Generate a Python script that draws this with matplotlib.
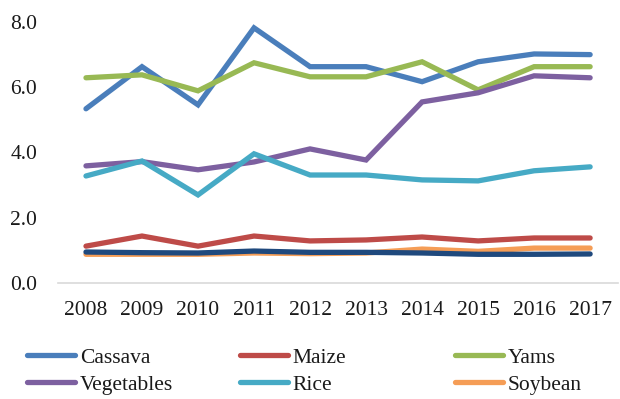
import numpy as np
import matplotlib.pyplot as plt
from matplotlib.lines import Line2D

years = ['2008', '2009', '2010', '2011', '2012', '2013', '2014', '2015', '2016', '2017']
cassava = [5.34, 6.63, 5.46, 7.82, 6.63, 6.63, 6.17, 6.78, 7.02, 7.00]
maize = [1.13, 1.44, 1.13, 1.44, 1.29, 1.32, 1.41, 1.29, 1.38, 1.38]
yams = [6.29, 6.38, 5.89, 6.75, 6.32, 6.32, 6.78, 5.92, 6.63, 6.63]
vegetables = [3.59, 3.72, 3.47, 3.71, 4.11, 3.77, 5.55, 5.83, 6.35, 6.29]
rice = [3.28, 3.74, 2.70, 3.96, 3.31, 3.31, 3.16, 3.13, 3.44, 3.56]
soybean = [0.88, 0.88, 0.88, 0.92, 0.90, 0.92, 1.04, 0.97, 1.07, 1.07]
other = [0.95, 0.93, 0.92, 0.98, 0.94, 0.94, 0.92, 0.88, 0.88, 0.89]

names = ['Cassava', 'Maize', 'Yams', 'Vegetables', 'Rice', 'Soybean']
series = [cassava, maize, yams, vegetables, rice, soybean]
colors = ['#4A7EBB', '#BE4B48', '#98B954', '#7D60A0', '#46AAC5', '#F59D56']

plt.rcParams['font.family'] = ['Liberation Serif']
fs = 15.5

fig = plt.figure(figsize=(6.2, 3.99), dpi=100)
ax = fig.add_axes([0.0935, 0.2907, 0.9035, 0.6542])

x = np.arange(len(years))
lw = 3.8
for s, c, n in zip(series, colors, names):
    ax.plot(x, s, color=c, lw=lw, label=n, solid_capstyle='round', solid_joinstyle='miter')
ax.plot(x, other, color='#1F497D', lw=lw, solid_capstyle='round')

ax.set_xlim(-0.5, len(years) - 0.5)
ax.set_ylim(0, 8)
ax.set_yticks([0, 2, 4, 6, 8])
ax.set_yticklabels(['0.0', '2.0', '4.0', '6.0', '8.0'])
ax.set_xticks(x)
ax.set_xticklabels(years)
ax.tick_params(length=0, labelsize=fs, colors='#1a1a1a')
ax.tick_params(axis='y', pad=15)
ax.tick_params(axis='x', pad=13)
for sp in ['top', 'right', 'left']:
    ax.spines[sp].set_visible(False)
ax.spines['bottom'].set_color('#D9D9D9')
ax.spines['bottom'].set_linewidth(1.2)

# legend: three columns at fixed positions, like the Excel layout
col_x = [27 / 620, 240 / 620, 455 / 620]
for i in range(3):
    hs = [Line2D([], [], color=colors[i], lw=lw, solid_capstyle='round'),
          Line2D([], [], color=colors[i + 3], lw=lw, solid_capstyle='round')]
    leg = fig.legend(hs, [names[i], names[i + 3]], loc='center left',
                     bbox_to_anchor=(col_x[i], 1 - 371 / 399), frameon=False,
                     fontsize=fs, handlelength=2.25, handletextpad=0.2,
                     labelspacing=0.32, borderpad=0, borderaxespad=0)
    for t in leg.get_texts():
        t.set_color('#1a1a1a')

fig.savefig('out.png', dpi=100)
